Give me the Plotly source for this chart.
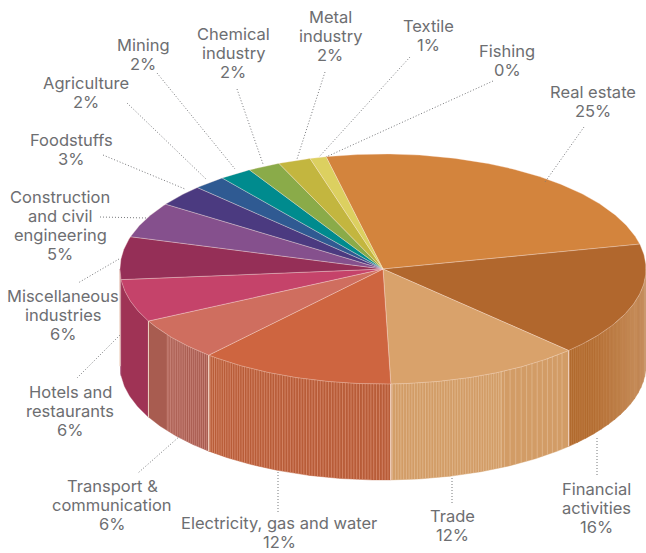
import math
import plotly.graph_objects as go

# Sector shares of the total, clockwise from the start angle
sectors = [["Real estate"], ["Financial", "activities"], ["Trade"], ["Electricity, gas and water"],
           ["Transport &", "communication"], ["Hotels and", "restaurants"], ["Miscellaneous", "industries"],
           ["Construction", "and civil", "engineering"], ["Foodstuffs"], ["Agriculture"], ["Mining"],
           ["Chemical", "industry"], ["Metal", "industry"], ["Textile"], ["Fishing"]]
shares = [25, 16, 12, 12, 6, 6, 6, 5, 3, 2, 2, 2, 2, 1, 0]

top_colors = ["#D3843D", "#B1672D", "#D9A26B", "#CE6540", "#CF6E5F", "#C5436A", "#952F57",
              "#85508D", "#4B3A80", "#2F5A92", "#008B8E", "#8AAB49", "#C3B63F", "#DCD060", "#E0D878"]
wall_colors = ["#C08040", "#B0682B", "#D29C66", "#B85C38", "#A85C50", "#9F3355", "#96305A",
               "#85508D", "#4B3A80", "#2F5A92", "#008B8E", "#8AAB49", "#C3B63F", "#DCD060", "#E0D878"]

# Label centres (first row) and leader lines, in page pixels
label_xy = [(593, 92), (596, 489), (452, 516), (279, 523), (112, 486), (70, 392), (63, 296),
            (60, 197), (71, 140), (86, 83), (143, 45), (233, 34), (330, 17), (428, 26), (507, 51)]
leaders = [((584, 127), (545, 182)), ((597, 438), (597, 475)), ((452, 478), (452, 505)),
           ((278, 472), (278, 514)), ((180, 436), (138, 473)), ((120, 335), (77, 378)),
           ((119, 259), (78, 283)), ((100, 217), (147, 218)), ((103, 155), (185, 189)),
           ((127, 103), (206, 179)), ((157, 73), (235, 169)), ((237, 89), (263, 164)),
           ((325, 72), (297, 159)), ((410, 57), (319, 157)), ((493, 81), (326, 157))]
LINE_STEP = 19

CX, CY, RX, RY, DEPTH = 383, 269, 263, 115, 96
START = 102.5


def rim(t, drop=0):
    a = math.radians(t)
    return CX + RX * math.cos(a), CY - RY * math.sin(a) + drop


def mix(c1, c2, f):
    p = [int(c1[i:i + 2], 16) for i in (1, 3, 5)]
    q = [int(c2[i:i + 2], 16) for i in (1, 3, 5)]
    return "rgb({},{},{})".format(*[round(a + (b - a) * f) for a, b in zip(p, q)])


def frange(a, b, step):
    out, t = [], a
    while t > b:
        out.append(t)
        t -= step
    out.append(b)
    return out


def add_wall(fig, t0, t1, color):
    ts = frange(t0, t1, 0.5)
    pts = [rim(t) for t in ts] + [rim(t, DEPTH) for t in reversed(ts)]
    xs, ys = zip(*pts)
    fig.add_trace(go.Scatter(x=list(xs) + [xs[0]], y=list(ys) + [ys[0]], mode="lines", fill="toself",
                             fillcolor=color, line=dict(width=0.4, color=color), hoverinfo="skip"))


def add_stripes(fig, t0, t1, step, color, width=0.8):
    xs, ys = [], []
    for t in frange(t0, t1, step):
        a, b = rim(t), rim(t, DEPTH)
        xs += [a[0], b[0], None]
        ys += [a[1], b[1], None]
    fig.add_trace(go.Scatter(x=xs, y=ys, mode="lines", line=dict(width=width, color=color), hoverinfo="skip"))


# Slice boundaries, in degrees running clockwise
edges = [START]
for s in shares:
    edges.append(edges[-1] - s * 3.6)

fig = go.Figure()

# Side wall: only the front half of the disc is visible
for i in range(len(shares)):
    hi, lo = edges[i], edges[i + 1]
    a, b = min(hi, 0), max(lo, -180)
    if a <= b:
        continue
    if i == 1:
        # Lit end of the financial wall fades towards the right
        n = 16
        for k in range(n):
            f0 = a - (a - b) * k / n
            f1 = a - (a - b) * (k + 1) / n
            add_wall(fig, f0, f1 - 0.2, mix("#CB9A6E", wall_colors[i], min(1, (k / (n - 1)) ** 0.9 * 1.15)))
    else:
        add_wall(fig, a, b, wall_colors[i])

fin_end, trade_end, elec_end, trans_end = edges[2], edges[3], edges[4], edges[5]

# Fine vertical hatching on the wall
add_stripes(fig, fin_end + 30, fin_end + 0.3, 0.62, "rgba(208,150,100,0.5)")
add_stripes(fig, trade_end + 25, trade_end, 0.6, "rgba(232,196,160,0.75)")
add_stripes(fig, fin_end - 2, trade_end + 25, 1.4, "rgba(232,196,160,0.8)", 0.7)
add_stripes(fig, trade_end, elec_end, 0.62, "rgba(222,150,122,0.85)")
add_stripes(fig, elec_end, trans_end + 8, 0.62, "rgba(214,150,140,0.75)")

# Pale seams where neighbouring slices meet on the wall
for t in (fin_end, trade_end, elec_end, trans_end, -179.4):
    add_stripes(fig, t, t - 0.01, 1, "rgba(240,212,196,0.8)", 1)

# Top face
for i, share in enumerate(shares):
    if share == 0:
        continue
    pts = [(CX, CY)] + [rim(t) for t in frange(edges[i], edges[i + 1], 0.5)] + [(CX, CY)]
    xs, ys = zip(*pts)
    fig.add_trace(go.Scatter(x=list(xs), y=list(ys), mode="lines", fill="toself", fillcolor=top_colors[i],
                             line=dict(width=0.6, color="rgba(255,235,225,0.55)"), hoverinfo="skip"))

# Dotted leader lines
for p, q in leaders:
    fig.add_trace(go.Scatter(x=[p[0], q[0]], y=[p[1], q[1]], mode="lines",
                             line=dict(width=1, color="#77787B", dash="1px 2px"), hoverinfo="skip"))

# Each label is stacked line by line so the rows keep an even pitch
for lines, share, (x, y) in zip(sectors, shares, label_xy):
    for k, text in enumerate(lines + [f"{share}%"]):
        fig.add_annotation(x=x, y=y + k * LINE_STEP, text=text, showarrow=False, xanchor="center", yanchor="middle",
                           font=dict(family="Inter", size=16.5, color="#6D6E71"))

fig.update_xaxes(range=[0, 646], visible=False, fixedrange=True)
fig.update_yaxes(range=[553, 0], visible=False, fixedrange=True)
fig.update_layout(width=646, height=553, margin=dict(l=0, r=0, t=0, b=0), showlegend=False,
                  paper_bgcolor="white", plot_bgcolor="white")

fig.write_html("out.html")
